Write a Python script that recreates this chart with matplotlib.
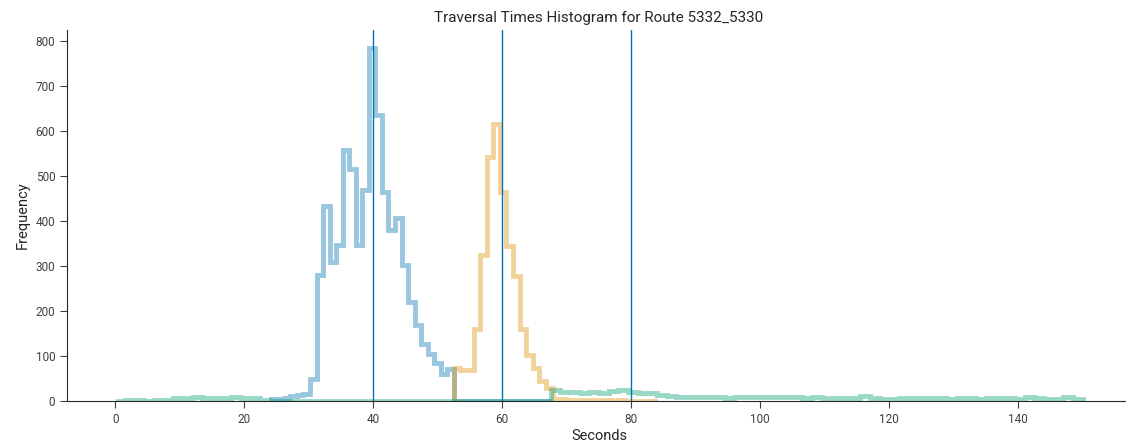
import numpy as np
import matplotlib
matplotlib.use("Agg")
import matplotlib.pyplot as plt
import seaborn as sns

# bin edges (seconds) and counts per group
blue_edges = np.linspace(24.1, 67.7, 44)
blue_counts = [5, 5, 6, 12, 13, 16, 50, 280, 433, 310, 347, 559, 515, 347,
               469, 786, 636, 465, 380, 408, 302, 221, 169, 127, 104, 85, 61, 72,
               0, 0, 0, 0, 0, 0, 0, 0, 0, 0, 0, 0, 0, 0, 0]

orange_edges = np.linspace(52.49, 84.11, 32)
orange_counts = [73, 68, 70, 161, 324, 543, 616, 465, 344, 278, 161, 102, 73, 45, 28,
                 5, 4, 3, 3, 2, 3, 2, 2, 2, 1, 2, 1, 1, 1, 1, 1]

green_edges = np.linspace(0, 150, 101)
green_counts = [1, 2, 2, 1, 2, 2, 6, 6, 10, 6, 6, 6, 10, 6, 6, 2,
                1, 1, 1, 1, 0, 0, 0, 0, 0, 0, 0, 0, 0, 0, 0, 0, 0, 0, 0,
                0, 0, 0, 0, 0, 0, 0, 0, 0, 0,
                24, 21, 21, 17, 21, 17, 23, 25, 21, 17, 17, 13, 12, 10, 10, 10, 8, 10,
                7, 8, 9, 10, 9, 9, 10, 9, 6, 9, 6, 6, 6, 6, 11, 6, 5, 4, 6, 6, 6, 6,
                6, 4, 6, 6, 4, 6, 6, 6, 4, 8, 7, 4, 4, 8, 4]

markers = [40, 60, 80]

sns.set_style("ticks")
plt.rcParams['font.family'] = ['Roboto', 'DejaVu Sans']
pal = sns.color_palette("colorblind")

fig = plt.figure(figsize=(11.26, 4.44), dpi=100)
ax = fig.add_axes([0.0595, 0.0968, 0.945, 0.8356])

for edges, counts, c in [(blue_edges, blue_counts, pal[0]),
                         (orange_edges, orange_counts, pal[1]),
                         (green_edges, green_counts, pal[2])]:
    ax.hist(edges[:-1], bins=edges, weights=counts, histtype='step',
            color=c, alpha=0.4, lw=3.5)

for m in markers:
    ax.axvline(m, color=pal[0], lw=1)

ax.set_xlim(-7.5, 157.5)
ax.set_ylim(0, 825)
ax.set_xticks(np.arange(0, 150, 20))
ax.set_yticks(np.arange(0, 900, 100))
ax.tick_params(labelsize=8.5, length=5, colors='.25')
ax.set_title("Traversal Times Histogram for Route 5332_5330", fontsize=11, color='.15')
ax.set_xlabel("Seconds", fontsize=10.5, color='.15', labelpad=2)
ax.set_ylabel("Frequency", fontsize=10.5, color='.15')
sns.despine(ax=ax)

fig.savefig("out.png", dpi=100)
